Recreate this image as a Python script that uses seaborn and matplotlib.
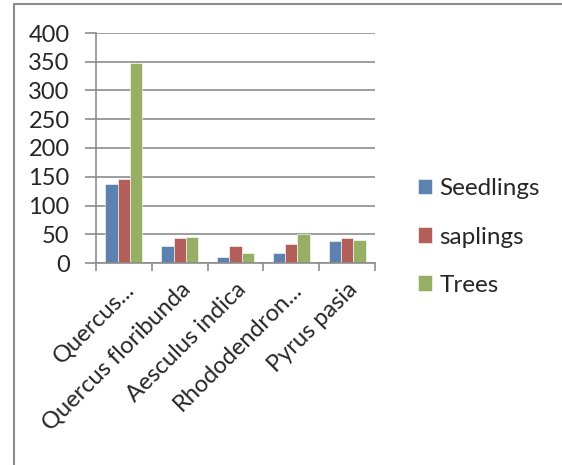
import pandas as pd
import matplotlib.pyplot as plt
import seaborn as sns
from matplotlib.lines import Line2D
from matplotlib.ticker import FixedLocator

species = ['Quercus...', 'Quercus floribunda', 'Aesculus indica',
           'Rhododendron...', 'Pyrus pasia']
seedlings = [138, 30, 10, 17, 39]
saplings = [146, 43, 30, 33, 43]
trees = [347, 45, 18, 50, 40]
series = ['Seedlings', 'saplings', 'Trees']
colors = ['#4F81BD', '#C0504D', '#9BBB59']

df = pd.DataFrame({'Species': species * 3,
                   'Group': [s for s in series for _ in species],
                   'Count': seedlings + saplings + trees})

sns.set_style('white')
plt.rcParams['font.family'] = ['Lato', 'DejaVu Sans']

W, H = 562, 465
fig = plt.figure(figsize=(W / 100, H / 100), dpi=100)
ax = fig.add_axes([96 / W, 1 - 263 / H, (375 - 96) / W, (263 - 33) / H])

sns.barplot(data=df, x='Species', y='Count', hue='Group', order=species,
            hue_order=series, palette=colors, width=0.66, gap=0,
            edgecolor='white', linewidth=0.4, ax=ax, legend=True)

ax.set_ylim(0, 400)
ax.set_yticks(range(0, 401, 50))
ax.set_xlim(-0.5, len(species) - 0.5)
ax.yaxis.grid(True, color='#8c8c8c', linewidth=1.2)
ax.set_axisbelow(True)
for side in ['top', 'right']:
    ax.spines[side].set_visible(False)
for side in ['left', 'bottom']:
    ax.spines[side].set_color('#8c8c8c')
    ax.spines[side].set_linewidth(1.2)
ax.set_xlabel('')
ax.set_ylabel('')

ax.tick_params(axis='y', length=8, width=1.2, color='#8c8c8c',
               labelsize=17, pad=11, left=True)
ax.tick_params(axis='x', which='major', length=0, labelsize=17, pad=11)
ax.xaxis.set_minor_locator(FixedLocator([i - 0.5 for i in range(len(species) + 1)]))
ax.tick_params(axis='x', which='minor', length=6, width=1.2,
               color='#8c8c8c', bottom=True)
ax.set_xticks(range(len(species)))
ax.set_xticklabels(species, rotation=45, ha='right', va='top',
                   rotation_mode='anchor')

leg = ax.legend(loc='center left', bbox_to_anchor=(408 / W, 1 - 237 / H),
                bbox_transform=fig.transFigure, frameon=False, fontsize=17.5,
                handlelength=0.6, handleheight=0.6, handletextpad=0.3,
                labelspacing=1.12, borderaxespad=0)

# outer chart border
fig.add_artist(Line2D([14 / W, 14 / W], [0, 1 - 4 / H], color='#8c8c8c', lw=1.5))
fig.add_artist(Line2D([14 / W, 1], [1 - 4 / H, 1 - 4 / H], color='#8c8c8c', lw=1.5))

fig.savefig('out.png', dpi=100)
